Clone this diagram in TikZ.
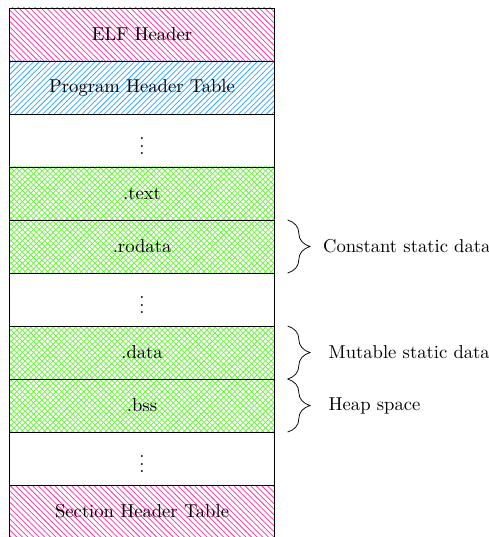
\documentclass[tikz,border=0pt]{standalone}
\usetikzlibrary{patterns,decorations.pathreplacing}

\definecolor{hpink}{RGB}{255,50,170}
\definecolor{hblue}{RGB}{50,165,255}
\definecolor{hgreen}{RGB}{105,245,60}

\tikzset{
  segment/.style={draw=black, rectangle, minimum width=5cm, minimum height=1cm,
    inner sep=0pt, outer sep=0pt},
  headerbox/.style={segment, pattern=north west lines, pattern color=hpink},
  tablebox/.style={segment, pattern=north east lines, pattern color=hblue},
  sectionbox/.style={segment,
    preaction={pattern=north east lines, pattern color=hgreen},
    pattern=north west lines, pattern color=hgreen},
  gapbox/.style={segment},
  bracedeco/.style={decorate, decoration={brace, amplitude=12pt, raise=7pt}},
  bracelabel/.style={anchor=west, xshift=22.5pt}
}

\begin{document}
\begin{tikzpicture}
\useasboundingbox (-0.18,0.15) rectangle (9.03,-9.98);

\node[headerbox]  (elf)    at (2.5,-0.5) {ELF Header};
\node[tablebox]   (pht)    at (2.5,-1.5) {Program Header Table};
\node[gapbox]     (gap1)   at (2.5,-2.5) {$\vdots$};
\node[sectionbox] (text)   at (2.5,-3.5) {.text};
\node[sectionbox] (rodata) at (2.5,-4.5) {.rodata};
\node[gapbox]     (gap2)   at (2.5,-5.5) {$\vdots$};
\node[sectionbox] (data)   at (2.5,-6.5) {.data};
\node[sectionbox] (bss)    at (2.5,-7.5) {.bss};
\node[gapbox]     (gap3)   at (2.5,-8.5) {$\vdots$};
\node[headerbox]  (sht)    at (2.5,-9.5) {Section Header Table};

\draw[bracedeco] (rodata.north east) -- (rodata.south east)
  node[midway, bracelabel] (constlbl) {Constant static data};
\draw[bracedeco] (data.north east) -- (data.south east)
  node[midway, bracelabel, xshift=3pt] (mutlbl) {Mutable static data};
\draw[bracedeco] (bss.north east) -- (bss.south east)
  node[midway, bracelabel, xshift=3pt] (heaplbl) {Heap space};
\end{tikzpicture}
\end{document}
